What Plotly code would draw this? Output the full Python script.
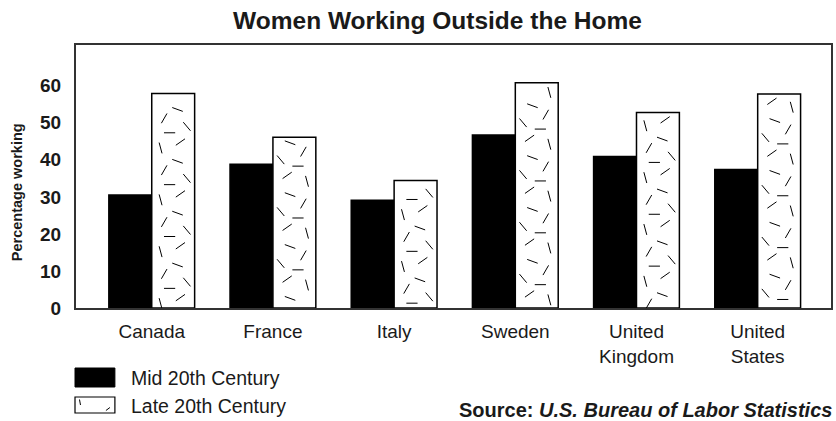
import plotly.graph_objects as go

# ---------------- data ----------------
categories = ["Canada", "France", "Italy", "Sweden", "United<br>Kingdom", "United<br>States"]
mid_values = [30.5, 38.8, 29.1, 46.7, 40.9, 37.4]
late_values = [57.9, 46.1, 34.4, 60.8, 52.8, 57.8]
y_ticks = [0, 10, 20, 30, 40, 50, 60]
series_names = ["Mid 20th Century", "Late 20th Century"]

# ---------------- layout constants ----------------
W, H = 836, 421
L, R, T, B = 76, 3, 45, 113
PW, PH = W - L - R, H - T - B
FONT = "Liberation Sans, Arial, Helvetica, sans-serif"
INK = "#1a1a1a"
BARGAP = 0.292
BAR_W = (1 - BARGAP) / 2


def pxx(x):
    return (x - L) / PW


def pxy(y):
    return (H - B - y) / PH


fig = go.Figure()
xs = list(range(len(categories)))

fig.add_bar(x=xs, y=mid_values, name=series_names[0],
            marker=dict(color="black", line=dict(color="black", width=1.5)))
fig.add_bar(x=xs, y=late_values, name=series_names[1],
            marker=dict(color="white", line=dict(color="black", width=1.5)))

# decorative dash texture inside the late bars (a fixed repeating tile)
TILE_H = 14.0
tile = [(0.15, 1.2, -15), (0.70, 2.8, 55), (0.40, 5.3, 90), (0.88, 7.0, -40),
        (0.25, 9.2, 30), (0.62, 11.6, -70)]
tx, ty, ta = [], [], []
for i, v in enumerate(late_values):
    phase = (i * 5) % 14
    k = -1
    while k * TILE_H < v + TILE_H:
        for fx, fy, ang in tile:
            yy = k * TILE_H + fy + phase
            fxx = fx if i % 2 == 0 else 1 - fx
            if 0.8 < yy < v - 1.2:
                tx.append(i + BAR_W * (0.08 + 0.84 * fxx))
                ty.append(yy)
                ta.append(ang)
        k += 1
fig.add_scatter(x=tx, y=ty, mode="markers", hoverinfo="skip",
                marker=dict(symbol="line-ns", size=8, angle=ta,
                            color="black", line=dict(color="black", width=1)))

fig.update_layout(
    width=W, height=H,
    margin=dict(l=L, r=R, t=T, b=B),
    paper_bgcolor="white", plot_bgcolor="white",
    barmode="group", bargap=BARGAP, bargroupgap=0,
    showlegend=False,
    font=dict(family=FONT, color=INK),
    title=dict(text="<b>Women Working Outside the Home</b>",
               x=437.5 / W, xanchor="center", y=1 - 20 / H, yanchor="middle",
               font=dict(size=24.5, family=FONT, color=INK)),
)
fig.update_xaxes(
    type="linear", range=[-0.625, 5.605],
    tickvals=xs, ticktext=categories,
    tickfont=dict(size=19, family=FONT, color=INK),
    showline=True, mirror=True, linecolor="#333", linewidth=2,
    showgrid=False, zeroline=False, ticks="", ticklabelstandoff=5,
)
fig.update_yaxes(
    range=[0, 71], tickvals=y_ticks,
    tickfont=dict(size=19, family=FONT, color=INK, weight="bold"),
    showline=True, mirror=True, linecolor="#333", linewidth=2,
    showgrid=False, zeroline=False, ticks="", ticklabelstandoff=9,
)

# y-axis title
fig.add_annotation(text="<b>Percentage working</b>", xref="paper", yref="paper",
                   x=pxx(17), y=pxy(192), textangle=-90, showarrow=False,
                   xanchor="center", yanchor="middle",
                   font=dict(size=14.5, family=FONT, color=INK))

# manual legend
shapes = [
    dict(type="rect", xref="paper", yref="paper",
         x0=pxx(75), x1=pxx(115), y0=pxy(368), y1=pxy(387),
         fillcolor="black", line=dict(color="black", width=1)),
    dict(type="rect", xref="paper", yref="paper",
         x0=pxx(75), x1=pxx(115), y0=pxy(397), y1=pxy(413),
         fillcolor="white", line=dict(color="black", width=1.2)),
    dict(type="line", xref="paper", yref="paper",
         x0=pxx(79.5), x1=pxx(80.5), y0=pxy(399.5), y1=pxy(405),
         line=dict(color="black", width=1)),
    dict(type="line", xref="paper", yref="paper",
         x0=pxx(106), x1=pxx(110), y0=pxy(410.5), y1=pxy(407.5),
         line=dict(color="black", width=1)),
]
fig.update_layout(shapes=shapes)
for name, yc in zip(series_names, [377.5, 405.5]):
    fig.add_annotation(text=name, xref="paper", yref="paper",
                       x=pxx(129), y=pxy(yc), showarrow=False,
                       xanchor="left", yanchor="middle",
                       font=dict(size=19.5, family=FONT, color=INK))

# source note
fig.add_annotation(text="<b>Source: <i>U.S. Bureau of Labor Statistics</i></b>",
                   xref="paper", yref="paper", x=pxx(836), y=pxy(409.5),
                   showarrow=False, xanchor="right", yanchor="middle",
                   font=dict(size=20, family=FONT, color=INK))

fig.write_html("out.html",
               config={"displayModeBar": False},
               post_script="document.body.style.margin='0';"
                           "document.body.style.overflow='hidden';")
